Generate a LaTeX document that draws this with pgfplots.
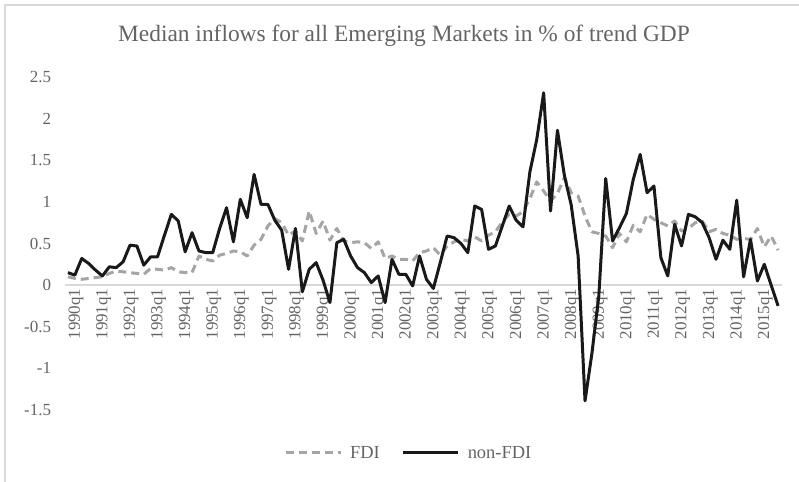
\documentclass[border=0pt]{standalone}
\usepackage{fontspec}
\setmainfont{Liberation Serif}
\usepackage{pgfplots}
\pgfplotsset{compat=1.18}
\usepackage{pgfplotstable}
\definecolor{txtgray}{RGB}{100,100,100}
\definecolor{fdigray}{RGB}{165,165,165}
\definecolor{axgray}{RGB}{217,217,217}
\pgfplotstableread{
i fdi nonfdi
0 0.10 0.15
1 0.08 0.12
2 0.07 0.32
3 0.08 0.26
4 0.09 0.18
5 0.10 0.11
6 0.14 0.22
7 0.17 0.21
8 0.16 0.28
9 0.15 0.48
10 0.14 0.47
11 0.13 0.24
12 0.20 0.34
13 0.19 0.34
14 0.18 0.60
15 0.21 0.85
16 0.16 0.77
17 0.15 0.40
18 0.15 0.63
19 0.35 0.41
20 0.31 0.39
21 0.29 0.39
22 0.36 0.68
23 0.38 0.93
24 0.41 0.52
25 0.40 1.03
26 0.35 0.81
27 0.48 1.33
28 0.55 0.97
29 0.71 0.97
30 0.80 0.78
31 0.75 0.66
32 0.60 0.19
33 0.65 0.68
34 0.53 -0.08
35 0.89 0.19
36 0.62 0.27
37 0.77 0.06
38 0.54 -0.21
39 0.68 0.51
40 0.53 0.55
41 0.51 0.35
42 0.52 0.21
43 0.51 0.15
44 0.44 0.03
45 0.52 0.11
46 0.32 -0.21
47 0.35 0.31
48 0.31 0.13
49 0.31 0.13
50 0.29 -0.01
51 0.39 0.35
52 0.41 0.07
53 0.45 -0.04
54 0.36 0.27
55 0.47 0.59
56 0.52 0.57
57 0.55 0.50
58 0.53 0.39
59 0.58 0.95
60 0.53 0.91
61 0.60 0.43
62 0.64 0.47
63 0.76 0.71
64 0.85 0.95
65 0.83 0.78
66 0.88 0.70
67 1.04 1.36
68 1.24 1.75
69 1.13 2.31
70 1.01 0.89
71 1.10 1.86
72 1.29 1.32
73 1.11 0.96
74 1.07 0.35
75 0.83 -1.39
76 0.64 -0.82
77 0.62 -0.13
78 0.59 1.28
79 0.45 0.53
80 0.62 0.69
81 0.52 0.86
82 0.72 1.27
83 0.64 1.57
84 0.85 1.11
85 0.79 1.19
86 0.75 0.33
87 0.71 0.11
88 0.77 0.73
89 0.65 0.47
90 0.68 0.85
91 0.75 0.82
92 0.77 0.75
93 0.64 0.57
94 0.67 0.31
95 0.62 0.54
96 0.60 0.43
97 0.55 1.02
98 0.56 0.10
99 0.55 0.55
100 0.68 0.05
101 0.46 0.25
102 0.59 0.00
103 0.42 -0.25
}\datatable
\begin{document}
\begin{tikzpicture}[x=1bp,y=1bp]
\useasboundingbox (0,0) rectangle (799,482);
\draw[axgray, line width=1.5bp] (5,-5) -- (5,477) -- (805,477);
\node[text=txtgray, font=\fontsize{23.5}{26}\selectfont] at (404,446) {Median inflows for all Emerging Markets in \% of trend GDP};
\begin{axis}[
  at={(64.5bp,72bp)}, anchor=south west,
  scale only axis, width=717bp, height=333bp,
  xmin=-0.5, xmax=103.5, ymin=-1.5, ymax=2.5,
  axis x line*=middle, axis y line*=left,
  x axis line style={axgray, line width=1.5bp},
  y axis line style={draw=none},
  major tick length=0pt,
  xtick={0,4,...,100},
  xticklabels={1990q1,1991q1,1992q1,1993q1,1994q1,1995q1,1996q1,1997q1,1998q1,1999q1,2000q1,2001q1,2002q1,2003q1,2004q1,2005q1,2006q1,2007q1,2008q1,2009q1,2010q1,2011q1,2012q1,2013q1,2014q1,2015q1},
  ytick={-1.5,-1,...,2.5},
  yticklabels={-1.5,-1,-0.5,0,0.5,1,1.5,2,2.5},
  xticklabel style={rotate=90, anchor=east, font=\fontsize{17}{19}\selectfont, text=txtgray, yshift=-8bp},
  yticklabel style={font=\fontsize{17}{19}\selectfont, text=txtgray, xshift=-10bp},
  /pgf/number format/assume math mode=true,
  clip=false,
  legend columns=2,
  legend style={at={(0.48,-0.129)}, anchor=center, draw=none, fill=none, font=\fontsize{18.5}{20}\selectfont, text=txtgray,
    /tikz/every odd column/.append style={column sep=6bp},
    /tikz/every even column/.append style={column sep=20bp}},
  legend image code/.code={\draw[#1] (0bp,0bp) -- (55bp,0bp);},
]
\addplot[fdigray, line width=3bp, dash pattern=on 8bp off 5bp, line join=round] table[x=i, y=fdi] {\datatable};
\addlegendentry{FDI}
\addplot[black!90, line width=3bp, line join=round] table[x=i, y=nonfdi] {\datatable};
\addlegendentry{non-FDI}
\end{axis}
\end{tikzpicture}
\end{document}
